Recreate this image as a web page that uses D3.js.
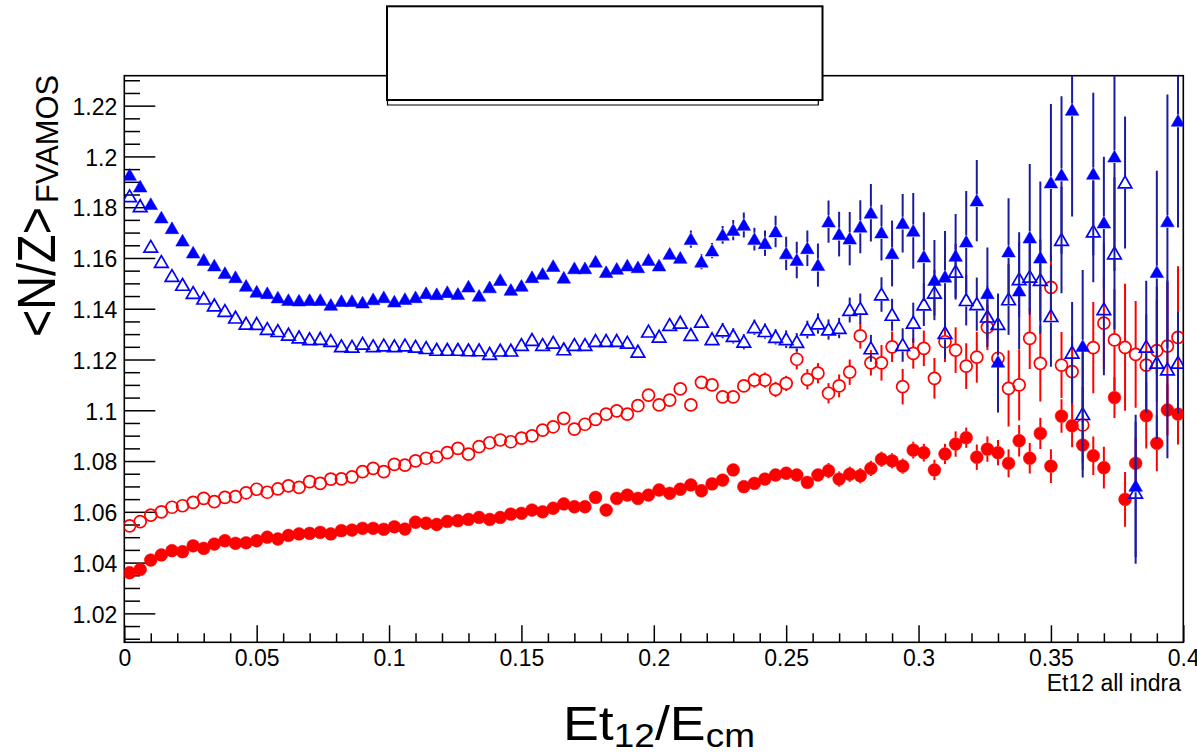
<!DOCTYPE html>
<html><head><meta charset="utf-8">
<script src="https://cdn.jsdelivr.net/npm/d3@7"></script>
<style>
html,body{margin:0;padding:0;background:#fff;}
svg{display:block;font-family:"Liberation Sans",Arial,Helvetica,sans-serif;}
</style></head>
<body>
<svg id="chart" width="1197" height="753"></svg>
<script>
// ---- data (bin centres of Et12/Ecm) ----
const xBins = [0.002,0.006,0.010,0.014,0.018,0.022,0.026,0.030,0.034,0.038,0.042,0.046,0.050,0.054,0.058,0.062,0.066,0.070,0.074,0.078,0.082,0.086,0.090,0.094,0.098,0.102,0.106,0.110,0.114,0.118,0.122,0.126,0.130,0.134,0.138,0.142,0.146,0.150,0.154,0.158,0.162,0.166,0.170,0.174,0.178,0.182,0.186,0.190,0.194,0.198,0.202,0.206,0.210,0.214,0.218,0.222,0.226,0.230,0.234,0.238,0.242,0.246,0.250,0.254,0.258,0.262,0.266,0.270,0.274,0.278,0.282,0.286,0.290,0.294,0.298,0.302,0.306,0.310,0.314,0.318,0.322,0.326,0.330,0.334,0.338,0.342,0.346,0.350,0.354,0.358,0.362,0.366,0.370,0.374,0.378,0.382,0.386,0.390,0.394,0.398];

// blue filled triangles
const blueFilled = [1.1927,1.1881,1.1812,1.1759,1.1717,1.1668,1.1621,1.1592,1.1570,1.1540,1.1524,1.1490,1.1467,1.1461,1.1444,1.1434,1.1432,1.1434,1.1434,1.1415,1.1430,1.1430,1.1424,1.1437,1.1445,1.1428,1.1438,1.1445,1.1461,1.1457,1.1465,1.1458,1.1487,1.1451,1.1484,1.1513,1.1474,1.1490,1.1524,1.1537,1.1568,1.1522,1.1559,1.1559,1.1585,1.1544,1.1557,1.1570,1.1563,1.1592,1.1570,1.1616,1.1600,1.1674,1.1585,1.1629,1.1691,1.1710,1.1730,1.1674,1.1658,1.1704,1.1618,1.1592,1.1638,1.1572,1.1743,1.1694,1.1676,1.1723,1.1778,1.1700,1.1618,1.1737,1.1707,1.1605,1.1513,1.1526,1.1608,1.1664,1.1826,1.1461,1.1191,1.1625,1.1471,1.1680,1.1601,1.1897,1.1927,1.2183,1.1253,1.1931,1.1739,1.1999,null,1.0702,null,1.1544,1.1744,1.2140];
const blueFilledErr = [0.001,0.001,0.001,0.001,0.001,0.001,0.001,0.001,0.001,0.001,0.001,0.001,0.001,0.001,0.001,0.001,0.001,0.001,0.001,0.001,0.001,0.001,0.001,0.001,0.001,0.001,0.001,0.001,0.001,0.001,0.001,0.001,0.001,0.001,0.001,0.001,0.001,0.001,0.001,0.001,0.001,0.001,0.001,0.001,0.001,0.001,0.0015,0.0015,0.0018,0.002,0.002,0.0025,0.0025,0.0034,0.003,0.003,0.0035,0.004,0.0049,0.0045,0.005,0.0062,0.0066,0.0072,0.007,0.0085,0.0083,0.0088,0.0105,0.0104,0.0113,0.011,0.013,0.0115,0.0149,0.0175,0.0158,0.018,0.0165,0.02,0.016,0.018,0.02,0.021,0.023,0.029,0.03,0.031,0.031,0.042,0.03,0.032,0.026,0.045,0,0.028,0,0.04,0.05,0.042];

// blue open triangles
const blueOpen = [1.1843,1.1804,1.1644,1.1584,1.1529,1.1494,1.1462,1.1440,1.1413,1.1391,1.1365,1.1341,1.1340,1.1320,1.1312,1.1298,1.1287,1.1280,1.1281,1.1273,1.1252,1.1250,1.1262,1.1252,1.1255,1.1252,1.1255,1.1250,1.1245,1.1238,1.1238,1.1238,1.1236,1.1236,1.1222,1.1235,1.1235,1.1257,1.1277,1.1257,1.1266,1.1240,1.1257,1.1257,1.1273,1.1273,1.1273,1.1266,1.1231,1.1310,1.1290,1.1336,1.1345,1.1297,1.1349,1.1280,1.1314,1.1293,1.1270,1.1327,1.1312,1.1289,1.1280,1.1269,1.1318,1.1342,1.1318,1.1324,1.1395,1.1400,1.1244,1.1456,1.1376,1.1257,1.1345,1.1417,1.1463,1.1304,1.1546,1.1434,1.1418,1.1369,1.1340,1.1437,1.1516,1.1526,1.1513,1.1371,1.1671,1.1227,1.0985,1.1704,1.1398,1.1618,1.1897,1.0675,1.1250,1.1187,1.1161,1.1187];
const blueOpenErr = [0.001,0.001,0.001,0.001,0.001,0.001,0.001,0.001,0.001,0.001,0.001,0.001,0.001,0.001,0.001,0.001,0.001,0.001,0.001,0.001,0.001,0.001,0.001,0.001,0.001,0.001,0.001,0.001,0.001,0.001,0.001,0.001,0.001,0.001,0.001,0.001,0.001,0.001,0.001,0.001,0.001,0.0015,0.0015,0.0015,0.0015,0.0015,0.0015,0.0015,0.0015,0.0015,0.002,0.002,0.002,0.0025,0.0025,0.0025,0.003,0.003,0.003,0.003,0.003,0.003,0.0035,0.0035,0.0035,0.004,0.004,0.004,0.0049,0.006,0.0053,0.0068,0.0063,0.0066,0.0079,0.0085,0.009,0.01,0.011,0.01,0.0105,0.012,0.012,0.014,0.015,0.015,0.016,0.02,0.021,0.02,0.025,0.02,0.026,0.03,0.026,0.028,0.026,0.03,0.035,0.02];

// red open circles
const redOpen = [1.0545,1.0561,1.0587,1.0600,1.0618,1.0624,1.0637,1.0653,1.0640,1.0657,1.0660,1.0675,1.0689,1.0677,1.0690,1.0702,1.0696,1.0719,1.0712,1.0729,1.0730,1.0738,1.0758,1.0771,1.0758,1.0787,1.0784,1.0801,1.0811,1.0816,1.0833,1.0850,1.0827,1.0857,1.0872,1.0883,1.0876,1.0890,1.0899,1.0922,1.0935,1.0968,1.0926,1.0945,1.0964,1.0985,1.0998,1.0985,1.1018,1.1060,1.1021,1.1040,1.1084,1.1021,1.1110,1.1100,1.1053,1.1053,1.1096,1.1119,1.1119,1.1082,1.1106,1.1201,1.1122,1.1146,1.1067,1.1096,1.1150,1.1293,1.1187,1.1187,1.1250,1.1093,1.1224,1.1244,1.1126,1.1270,1.1237,1.1174,1.1209,1.1327,1.1205,1.1086,1.1100,1.1283,1.1185,1.1484,1.1178,1.1152,1.0942,1.1247,1.1343,1.1277,1.1248,1.1220,1.1178,1.1235,1.1253,1.1287];
const redOpenErr = [0.0008,0.0008,0.0008,0.0008,0.0008,0.0008,0.0008,0.0008,0.0008,0.0008,0.0008,0.0008,0.0008,0.0008,0.0008,0.0008,0.0008,0.0008,0.0008,0.0008,0.0008,0.0008,0.0008,0.0008,0.0008,0.0008,0.0008,0.0008,0.0008,0.0008,0.0008,0.0008,0.0008,0.0008,0.0008,0.0008,0.0008,0.0008,0.0008,0.0008,0.0008,0.0008,0.0008,0.0008,0.0008,0.0008,0.0008,0.0008,0.0008,0.0008,0.0008,0.0015,0.0015,0.0018,0.002,0.002,0.002,0.0025,0.0025,0.003,0.003,0.003,0.003,0.004,0.004,0.004,0.004,0.0045,0.005,0.005,0.005,0.007,0.006,0.007,0.006,0.007,0.008,0.008,0.009,0.009,0.01,0.009,0.01,0.015,0.014,0.012,0.015,0.013,0.013,0.014,0.015,0.018,0.018,0.02,0.025,0.021,0.02,0.02,0.025,0.028];

// red filled circles
const redFilled = [1.0360,1.0373,1.0410,1.0430,1.0447,1.0443,1.0466,1.0456,1.0473,1.0486,1.0476,1.0478,1.0486,1.0500,1.0493,1.0507,1.0513,1.0515,1.0519,1.0513,1.0526,1.0528,1.0535,1.0535,1.0531,1.0541,1.0532,1.0559,1.0555,1.0550,1.0562,1.0565,1.0570,1.0578,1.0570,1.0578,1.0591,1.0594,1.0607,1.0600,1.0614,1.0631,1.0620,1.0620,1.0657,1.0607,1.0653,1.0666,1.0653,1.0666,1.0686,1.0673,1.0689,1.0706,1.0683,1.0710,1.0725,1.0765,1.0699,1.0712,1.0729,1.0745,1.0752,1.0745,1.0716,1.0745,1.0762,1.0729,1.0748,1.0742,1.0771,1.0807,1.0801,1.0780,1.0843,1.0833,1.0765,1.0828,1.0867,1.0892,1.0815,1.0847,1.0833,1.0791,1.0880,1.0811,1.0909,1.0780,1.0977,1.0939,1.0863,1.0821,1.0774,1.1050,1.0649,1.0791,1.0979,1.0870,1.1001,1.0985];
const redFilledErr = [0.0008,0.0008,0.0008,0.0008,0.0008,0.0008,0.0008,0.0008,0.0008,0.0008,0.0008,0.0008,0.0008,0.0008,0.0008,0.0008,0.0008,0.0008,0.0008,0.0008,0.0008,0.0008,0.0008,0.0008,0.0008,0.0008,0.0008,0.0008,0.0008,0.0008,0.0008,0.0008,0.0008,0.0008,0.0008,0.0008,0.0008,0.0008,0.0008,0.0008,0.0008,0.0008,0.0008,0.0008,0.0008,0.0008,0.0008,0.0008,0.0008,0.0008,0.0008,0.0008,0.0008,0.0008,0.0008,0.0008,0.0015,0.0015,0.0018,0.002,0.002,0.002,0.0022,0.0025,0.0025,0.0025,0.003,0.003,0.003,0.003,0.003,0.003,0.003,0.003,0.0033,0.0035,0.004,0.004,0.005,0.004,0.005,0.005,0.005,0.0055,0.0062,0.006,0.0062,0.0066,0.0066,0.0085,0.0098,0.0076,0.0082,0.008,0.0108,0.01,0.013,0.011,0.01,0.012];

// axes ticks
const yMajorTicks = [1.02,1.04,1.06,1.08,1.10,1.12,1.14,1.16,1.18,1.20,1.22];
const yTickLabels = ["1.02","1.04","1.06","1.08","1.1","1.12","1.14","1.16","1.18","1.2","1.22"];
const xMajorTicks = [0,0.05,0.10,0.15,0.20,0.25,0.30,0.35,0.40];
const xTickLabels = ["0","0.05","0.1","0.15","0.2","0.25","0.3","0.35","0.4"];

// ---- layout ----
const svg = d3.select("#chart");
const L = 124.3, R = 1183.3, T = 75.7, B = 642.3;
const x = d3.scaleLinear().domain([0,0.4]).range([L,R]);
const y = d3.scaleLinear().domain([1.0086,1.2318]).range([B,T]);

svg.append("defs").append("clipPath").attr("id","clip")
  .append("rect").attr("x",L).attr("y",T).attr("width",R-L).attr("height",B-T);

// minor tick values derived from axis ranges
const yMinor = d3.range(1.010,1.2318,0.005).filter(v=>!yMajorTicks.some(m=>Math.abs(m-v)<1e-6));
const xMinor = d3.range(0.01,0.4,0.01).filter(v=>!xMajorTicks.some(m=>Math.abs(m-v)<1e-6));

const fontTick = 23;
// y axis
const gy = svg.append("g").attr("transform",`translate(${L},0)`)
  .call(d3.axisLeft(y).tickValues(yMinor).tickSize(-15.7).tickFormat(""));
const gyM = svg.append("g").attr("transform",`translate(${L},0)`)
  .call(d3.axisLeft(y).tickValues(yMajorTicks).tickSize(-31).tickPadding(7)
    .tickFormat((d,i)=>yTickLabels[i]));
[gy,gyM].forEach(g=>{g.select(".domain").remove();g.selectAll("line").attr("stroke","#000").attr("stroke-width",1.5);});
gyM.selectAll("text").attr("font-size",fontTick).attr("fill","#000").attr("font-family","Liberation Sans, Arial, sans-serif").attr("dy","0.38em");

// x axis
const gx = svg.append("g").attr("transform",`translate(0,${B})`)
  .call(d3.axisBottom(x).tickValues(xMinor).tickSize(-9).tickFormat(""));
const gxM = svg.append("g").attr("transform",`translate(0,${B})`)
  .call(d3.axisBottom(x).tickValues(xMajorTicks).tickSize(-17).tickPadding(7)
    .tickFormat((d,i)=>xTickLabels[i]));
[gx,gxM].forEach(g=>{g.select(".domain").remove();g.selectAll("line").attr("stroke","#000").attr("stroke-width",1.5);});
gxM.selectAll("text").attr("font-size",fontTick).attr("fill","#000").attr("font-family","Liberation Sans, Arial, sans-serif");

// frame
svg.append("rect").attr("x",L).attr("y",T).attr("width",R-L).attr("height",B-T)
  .attr("fill","none").attr("stroke","#000").attr("stroke-width",1.6);

// ---- data marks ----
const plot = svg.append("g").attr("clip-path","url(#clip)");
const triPath = "M0,-6.4L6.8,5.4L-6.8,5.4Z";

function drawSeries(vals, errs, opts){
  const data = xBins.map((xv,i)=>({x:xv,v:vals[i],e:errs[i]})).filter(d=>d.v!==null);
  const g = plot.append("g");
  const gap = opts.gap;
  data.forEach(d=>{
    const cx = x(d.x), cy = y(d.v), yt = y(d.v+d.e), yb = y(d.v-d.e);
    if (cy - yt > gap) g.append("line").attr("x1",cx).attr("x2",cx).attr("y1",yt).attr("y2",cy-gap)
      .attr("stroke",opts.barColor).attr("stroke-width",2);
    if (yb - cy > gap) g.append("line").attr("x1",cx).attr("x2",cx).attr("y1",cy+gap).attr("y2",yb)
      .attr("stroke",opts.barColor).attr("stroke-width",2);
  });
  const m = g.selectAll(".m").data(data).enter();
  if (opts.shape==="circle"){
    m.append("circle").attr("cx",d=>x(d.x)).attr("cy",d=>y(d.v)).attr("r",opts.filled?6.4:6)
      .attr("fill",opts.filled?opts.color:"none").attr("stroke",opts.color).attr("stroke-width",opts.filled?0.5:1.7);
  } else {
    m.append("path").attr("d",triPath).attr("transform",d=>`translate(${x(d.x)},${y(d.v)})`)
      .attr("fill",opts.filled?opts.color:"none").attr("stroke",opts.color).attr("stroke-width",opts.filled?0.5:1.7)
      .attr("stroke-linejoin","miter");
  }
}
drawSeries(redFilled, redFilledErr, {shape:"circle",filled:true,color:"#ff0000",barColor:"#ff0000",gap:6.4});
drawSeries(redOpen, redOpenErr, {shape:"circle",filled:false,color:"#ff0000",barColor:"#ff0000",gap:6.4});
drawSeries(blueOpen, blueOpenErr, {shape:"tri",filled:false,color:"#0000ff",barColor:"#1c1c9c",gap:6.4});
drawSeries(blueFilled, blueFilledErr, {shape:"tri",filled:true,color:"#0000ff",barColor:"#1c1c9c",gap:6.4});

// ---- title box (empty pave) ----
svg.append("path").attr("d","M387.5,100 L387.5,105 L818.3,105 L818.3,100")
  .attr("fill","none").attr("stroke","#000").attr("stroke-width",1.2);
svg.append("rect").attr("x",387).attr("y",6.3).attr("width",435.5).attr("height",93.7)
  .attr("fill","#fff").attr("stroke","#000").attr("stroke-width",2);

// ---- axis titles ----
const yt = svg.append("g").attr("transform","translate(55,337) rotate(-90)");
yt.append("text").attr("x",0).attr("y",0).attr("font-size",54).attr("textLength",130)
  .attr("lengthAdjust","spacingAndGlyphs").text("<N/Z>");
yt.append("text").attr("x",134).attr("y",3).attr("font-size",32).attr("textLength",128)
  .attr("lengthAdjust","spacingAndGlyphs").text("FVAMOS");

const xtg = svg.append("g").attr("transform","translate(563,740) scale(1.12,1)");
const xt = xtg.append("text").attr("x",0).attr("y",0).attr("font-size",48);
xt.append("tspan").text("Et");
xt.append("tspan").attr("font-size",33).attr("dy",7).text("12");
xt.append("tspan").attr("dy",-7).text("/E");
xt.append("tspan").attr("font-size",33).attr("dy",7).text("cm");

svg.append("text").attr("x",1181).attr("y",691).attr("text-anchor","end")
  .attr("font-size",23).text("Et12 all indra");
</script>
</body></html>
